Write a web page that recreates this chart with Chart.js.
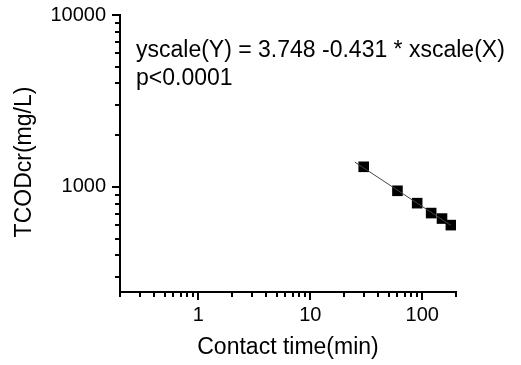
<!DOCTYPE html>
<html>
<head>
<meta charset="utf-8">
<script src="https://cdn.jsdelivr.net/npm/chart.js@4.4.0/dist/chart.umd.min.js"></script>
<style>
  html, body { margin: 0; padding: 0; background: #fff; }
  #wrap { width: 521px; height: 365px; }
</style>
</head>
<body>
<div id="wrap"><canvas id="myChart" width="521" height="365"></canvas></div>
<script>
// measured points
const timeMin = [30, 60, 90, 120, 150, 180];
const tcod = [1310, 950, 805, 705, 655, 600];

// fitted line ends
const fitTime = [25, 180];
const fitTcod = [1395, 598];

const xMajor = [1, 10, 100];
const xMinor = [0.2, 0.3, 0.4, 0.5, 0.6, 0.7, 0.8, 0.9, 2, 3, 4, 5, 6, 7, 8, 9,
                20, 30, 40, 50, 60, 70, 80, 90, 200];
const yMajor = [1000, 10000];
const yMinor = [300, 400, 500, 600, 700, 800, 900,
                2000, 3000, 4000, 5000, 6000, 7000, 8000, 9000];

const eqLines = ['yscale(Y) = 3.748 -0.431 * xscale(X)', 'p<0.0001'];
const yTitle = 'TCODcr(mg/L)';

const FONT = '"Liberation Sans", Arial, sans-serif';
Chart.defaults.font.family = FONT;
Chart.defaults.color = '#000';

// outward ticks, long for decades, short for the rest
const tickMarks = {
    id: 'tickMarks',
    afterDraw(chart) {
        const ctx = chart.ctx;
        const xs = chart.scales.x, ys = chart.scales.y;
        const area = chart.chartArea;
        ctx.save();
        ctx.strokeStyle = '#000';
        ctx.lineWidth = 2;
        ctx.beginPath();
        xMajor.concat(xMinor).forEach(v => {
            const px = Math.round(xs.getPixelForValue(v));
            const len = xMajor.includes(v) ? 8 : 5;
            ctx.moveTo(px, area.bottom);
            ctx.lineTo(px, area.bottom + len);
        });
        yMajor.concat(yMinor).forEach(v => {
            const py = Math.round(ys.getPixelForValue(v));
            const len = yMajor.includes(v) ? 8 : 5;
            ctx.moveTo(area.left, py);
            ctx.lineTo(area.left - len, py);
        });
        ctx.stroke();

        // regression note
        ctx.fillStyle = '#000';
        ctx.font = '23px ' + FONT;
        ctx.textAlign = 'left';
        ctx.textBaseline = 'alphabetic';
        ctx.fillText(eqLines[0], 136, 57);
        ctx.fillText(eqLines[1], 136, 85);

        // y title sits a bit below the axis middle in the original
        ctx.translate(25, 162);
        ctx.rotate(-Math.PI / 2);
        ctx.textAlign = 'center';
        ctx.textBaseline = 'middle';
        ctx.fillText(yTitle, 0, 0);
        ctx.restore();
    }
};

new Chart(document.getElementById('myChart'), {
    type: 'scatter',
    data: {
        datasets: [
            {
                label: 'fit',
                data: fitTime.map((t, i) => ({ x: t, y: fitTcod[i] })),
                showLine: true,
                borderColor: '#444',
                borderWidth: 1,
                pointRadius: 0
            },
            {
                label: 'TCODcr',
                data: timeMin.map((t, i) => ({ x: t, y: tcod[i] })),
                pointStyle: 'rect',
                pointRadius: 7.5,
                backgroundColor: '#000',
                borderColor: '#000',
                borderWidth: 0
            }
        ]
    },
    options: {
        responsive: false,
        animation: false,
        layout: { padding: { top: 15, right: 65, left: 0, bottom: 0 } },
        plugins: { legend: { display: false }, tooltip: { enabled: false } },
        scales: {
            x: {
                type: 'logarithmic',
                min: 0.2,
                max: 200,
                afterBuildTicks: s => { s.ticks = xMajor.map(v => ({ value: v })); },
                afterFit: s => { s.height = 73; s.paddingLeft = 0; s.paddingRight = 0; },
                ticks: { callback: v => String(v), font: { size: 20 }, padding: 11, maxRotation: 0 },
                grid: { drawOnChartArea: false, drawTicks: false },
                border: { color: '#000', width: 2 },
                title: { display: true, text: 'Contact time(min)', font: { size: 23 }, padding: { top: 2 } }
            },
            y: {
                type: 'logarithmic',
                min: 245,
                max: 10000,
                afterBuildTicks: s => { s.ticks = yMajor.map(v => ({ value: v })); },
                afterFit: s => { s.width = 120; s.paddingTop = 0; s.paddingBottom = 0; },
                ticks: { callback: v => String(v), font: { size: 20 }, padding: 14 },
                grid: { drawOnChartArea: false, drawTicks: false },
                border: { color: '#000', width: 2 }
            }
        }
    },
    plugins: [tickMarks]
});
</script>
</body>
</html>
